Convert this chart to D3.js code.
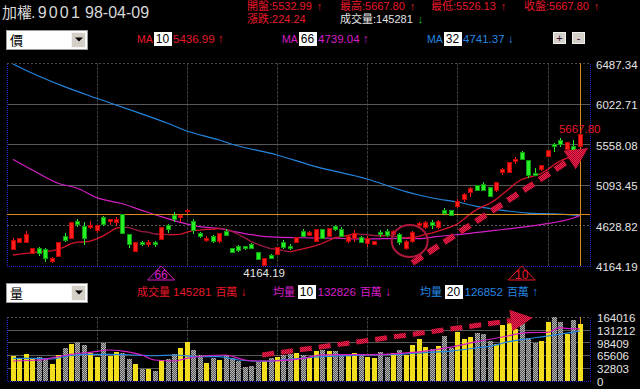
<!DOCTYPE html>
<html>
<head>
<meta charset="utf-8">
<title>加權.9001</title>
<script src="https://cdn.jsdelivr.net/npm/d3@7"></script>
<style>
  html, body { margin: 0; background: #000; }
  svg { display: block; }
</style>
</head>
<body>
<svg id="chart" width="640" height="389"></svg>
<script>
// ---- data ----
const opens = [4352,4436,4428,4306,4356,4352,4210,4267,4497,4471,
  4677,4612,4605,4566,4712,4669,4658,4754,4524,4325,
  4436,4402,4436,4467,4631,4735,4720,4784,4669,4539,
  4459,4497,4440,4554,4356,4382,4382,4410,4313,4172,
  4287,4295,4428,4390,4428,4562,4516,4440,4582,4505,
  4612,4574,4440,4471,4490,4421,4413,4547,4562,4524,
  4528,4356,4440,4631,4600,4658,4600,4803,4795,4841,
  4926,5002,5082,5099,5060,5022,5232,5236,5358,5466,
  5366,5228,5263,5423,5558,5599,5500,5538,5532.99];
const highs = [4479,4485,4566,4373,4382,4367,4267,4435,4536,4670,
  4700,4662,4681,4630,4738,4705,4727,4763,4530,4435,
  4448,4459,4453,4607,4638,4784,4758,4811,4697,4554,
  4505,4520,4545,4585,4362,4398,4396,4425,4320,4258,
  4298,4384,4459,4413,4492,4580,4562,4580,4590,4600,
  4631,4603,4512,4574,4505,4505,4453,4574,4580,4574,
  4545,4459,4562,4666,4677,4689,4689,4821,4809,4930,
  5000,5067,5096,5128,5067,5128,5280,5360,5415,5481,
  5375,5286,5320,5490,5569,5627,5585,5607,5667.80];
const lows = [4339,4421,4421,4298,4275,4210,4192,4260,4440,4465,
  4612,4402,4582,4536,4623,4631,4620,4528,4364,4318,
  4390,4379,4379,4460,4536,4669,4669,4758,4528,4479,
  4436,4425,4421,4505,4308,4325,4344,4356,4230,4164.19,
  4240,4287,4356,4344,4421,4493,4510,4436,4465,4498,
  4562,4493,4430,4440,4421,4375,4402,4493,4499,4516,
  4407,4344,4430,4614,4585,4585,4591,4746,4735,4826,
  4895,4956,5027,5025,4958,5015,5205,5230,5328,5378,
  5167,5194,5255,5415,5473,5523,5493,5436,5526.13];
const closes = [4459,4471,4524,4364,4306,4249,4249,4428,4459,4662,
  4639,4479,4631,4623,4639,4700,4700,4536,4402,4428,
  4410,4428,4410,4600,4585,4697,4738,4795,4566,4497,
  4482,4440,4536,4516,4313,4336,4359,4364,4237,4249,
  4249,4375,4375,4359,4485,4505,4543,4574,4471,4593,
  4582,4505,4505,4536,4428,4479,4440,4524,4508,4562,
  4428,4440,4543,4651,4662,4631,4669,4758,4746,4899,
  4976,5053,5033,5033,4964,5121,5263,5351,5385,5385,
  5205,5205,5312,5481,5530,5550,5576,5443.56,5667.80];
const volumes = [63200,56000,68000,55000,60000,56000,43000,66000,85000,94000,
  99000,92000,72000,61000,97000,63000,73000,70000,55000,44000,
  31000,31000,26000,53000,55000,68000,83000,99000,79000,65000,
  46000,57000,52000,65000,57000,50000,35000,38000,47000,51000,
  57000,61000,65000,68000,72000,66000,58000,76000,79000,75000,
  75000,67000,68000,72000,67000,61000,59000,73000,61000,70000,
  79000,67000,92000,108000,87000,80000,89000,114000,85000,126000,
  108000,111000,121000,120000,102000,94000,142000,147000,132000,147000,
  109000,97000,102000,150000,164000,150000,120000,155000,145281];
const ma10 = [4287,4296,4306,4314,4322,4328,4335,4352,4380,4417,
  4435,4436,4447,4473,4506,4551,4596,4607,4601,4578,
  4555,4550,4528,4525,4520,4520,4523,4549,4566,4573,
  4580,4581,4594,4585,4558,4522,4484,4441,4408,4383,
  4360,4353,4337,4322,4339,4356,4374,4395,4419,4453,
  4486,4499,4512,4530,4524,4522,4511,4506,4510,4507,
  4492,4485,4489,4500,4524,4539,4562,4585,4609,4643,
  4698,4759,4808,4846,4876,4925,4985,5044,5108,5156,
  5179,5195,5222,5267,5324,5367,5398,5407,5436.99];
// [day, value] samples of the longer averages
const ma66 = [[0,5385],[3,5263],[7,5110],[10,5053],[13,4945],[17,4875],[20,4800],
  [23,4727],[26,4662],[29,4612],[32,4590],[34,4562],[37,4520],[40,4495],[45,4485],
  [50,4479],[55,4471],[60,4478],[63,4476],[66,4500],[71,4536],[76,4580],[82,4635],
  [87,4712],[88,4739.04]];
const ma32 = [[0,6480],[3,6373],[8,6219],[13,6086],[19,5932],[24,5799],[27,5710],
  [32,5607],[34,5558],[41,5435],[47,5301],[55,5159],[61,5014],[63,4976],[66,4930],
  [69,4895],[72,4845],[76,4800],[80,4768],[84,4758],[88,4741.37]];
const volMa10 = [[0,50500],[4,53000],[7,61500],[9,67700],[12,72800],[15,78700],
  [17,76000],[20,65900],[22,53000],[25,50500],[27,57400],[30,64000],[33,65900],
  [36,53000],[38,50500],[41,51000],[45,57000],[48,66000],[52,67000],[56,67000],
  [60,70000],[64,76000],[68,86000],[72,100000],[76,112000],[80,123000],[83,124000],
  [85,136000],[86,134000],[88,132826]];
const volMa20 = [[0,57400],[3,57400],[6,55600],[8,61500],[11,67700],[15,67700],
  [19,65900],[22,64000],[25,65900],[29,61500],[32,61500],[35,53000],[39,50000],
  [43,55000],[48,61500],[55,66000],[60,68000],[64,72000],[68,76000],[72,84000],
  [74,88000],[77,100000],[81,110000],[84,117000],[86,122000],[88,126852]];
const priceTicks = [4164.19, 4628.82, 5093.45, 5558.08, 6022.71, 6487.34];
const volTicks = [0, 32803, 65606, 98409, 131212, 164016];
const gridDays = [13, 27, 41, 55, 69, 83];
const crossPrice = 4754;
// hand-drawn annotations, in [day, value]
const priceArrow = [[62, 4195], [89.3, 5515]];
const volArrow = [[38.7, 65900], [80.7, 161500]];
const circleAt = [61.6, 4448];

const colors = {
  up: "#ff1e1e", upEdge: "#c00000",
  down: "#26f026", downEdge: "#0c9c0c",
  ma10Up: "#d8142e", ma10Down: "#a01a44",
  ma66: "#d41ec6", ma32: "#2486e0",
  red: "#e8182a", volUp: "#f2de1c",
  grid: "#585858", gridDark: "#3c3c3c", frame: "#2626c8",
  cross: "#d88a1c", text: "#e4e4e4"
};
const FONT = "'Liberation Sans', Arial, 'Noto Sans CJK TC', sans-serif";

const svg = d3.select("#chart").attr("font-family", FONT);
const n = closes.length;
const days = d3.range(n);
const x = d3.scaleLinear().domain([0, n - 1]).range([13, 579.7]);
const yP = d3.scaleLinear().domain([4164.19, 6487.34]).range([265.7, 63.3]);
const yV = d3.scaleLinear().domain([0, 164016]).range([380.7, 316.7]);
const L = 7, R = 590;
const px = v => Math.round(v) + 0.5;

const defs = svg.append("defs");
function checker(id, a, b) {
  const p = defs.append("pattern").attr("id", id)
    .attr("width", 2).attr("height", 2).attr("patternUnits", "userSpaceOnUse");
  p.append("rect").attr("width", 2).attr("height", 2).attr("fill", a);
  p.append("rect").attr("width", 1).attr("height", 1).attr("fill", b);
  p.append("rect").attr("x", 1).attr("y", 1).attr("width", 1).attr("height", 1).attr("fill", b);
}
checker("dither", "#585858", "#b4b4b4");
checker("hatch", "#ff1e4a", "#9c0c2c");

// ---- panel frames ----
function frame(scale, ticks, dashedTicks) {
  const g = svg.append("g").attr("shape-rendering", "crispEdges");
  const bottom = scale.range()[0], top = scale.range()[1];
  g.selectAll(".vg").data(gridDays).enter().append("line")
    .attr("x1", d => px(x(d))).attr("x2", d => px(x(d)))
    .attr("y1", top).attr("y2", bottom)
    .attr("stroke", colors.gridDark).attr("stroke-dasharray", "3,1");
  g.selectAll(".hg").data(ticks.slice(1, -1)).enter().append("line")
    .attr("x1", L).attr("x2", R)
    .attr("y1", d => px(scale(d))).attr("y2", d => px(scale(d)))
    .attr("stroke", colors.grid)
    .attr("stroke-dasharray", d => dashedTicks.includes(d) ? "2,2" : null);
  g.append("line").attr("x1", L).attr("x2", R).attr("y1", px(top)).attr("y2", px(top))
    .attr("stroke", "#4a4a4a").attr("stroke-dasharray", "2,2");
  g.append("path")
    .attr("d", `M${px(L)},${px(top)}V${px(bottom)}H${px(R)}V${px(top)}`)
    .attr("fill", "none").attr("stroke", colors.frame).attr("stroke-dasharray", "1,1");
  return g;
}
frame(yP, priceTicks, [4628.82]);
frame(yV, volTicks, []);

// axis labels
svg.append("g").selectAll("text").data(priceTicks).enter().append("text")
  .attr("x", 596).attr("y", d => yP(d) + 1.5).attr("dominant-baseline", "central")
  .attr("font-size", 11.5).attr("fill", colors.text).text(d => d.toFixed(2));
svg.append("g").selectAll("text").data(volTicks).enter().append("text")
  .attr("x", 597).attr("y", d => yV(d) + 1.3).attr("dominant-baseline", "central")
  .attr("font-size", 11.5).attr("fill", colors.text).text(d => d);

// ---- moving averages (price) ----
const line = d3.line().x(d => x(d[0])).y(d => yP(d[1])).curve(d3.curveMonotoneX);
svg.append("path").attr("d", line(ma32)).attr("fill", "none")
  .attr("stroke", colors.ma32).attr("stroke-width", 1.2);
svg.append("path").attr("d", line(ma66)).attr("fill", "none")
  .attr("stroke", colors.ma66).attr("stroke-width", 1.2);
svg.append("g").selectAll("path").data(d3.range(1, n)).enter().append("path")
  .attr("d", i => line([[i - 1, ma10[i - 1]], [i, ma10[i]]]))
  .attr("fill", "none").attr("stroke-width", 1.3)
  .attr("stroke", i => ma10[i] >= ma10[i - 1] ? colors.ma10Up : colors.ma10Down);

// crosshair
const cx = px(x(n - 1));
svg.append("g").attr("shape-rendering", "crispEdges").attr("stroke", colors.cross)
  .call(g => g.append("line").attr("x1", L).attr("x2", R)
    .attr("y1", px(yP(crossPrice))).attr("y2", px(yP(crossPrice))))
  .call(g => g.append("line").attr("x1", cx).attr("x2", cx)
    .attr("y1", yP.range()[1]).attr("y2", yP.range()[0]))
  .call(g => g.append("line").attr("x1", cx).attr("x2", cx)
    .attr("y1", yV.range()[1]).attr("y2", yV.range()[0]));

// ---- candles ----
const isUp = i => closes[i] >= opens[i];
const candles = svg.append("g").attr("shape-rendering", "crispEdges");
candles.selectAll("line").data(days).enter().append("line")
  .attr("x1", i => px(x(i))).attr("x2", i => px(x(i)))
  .attr("y1", i => yP(highs[i])).attr("y2", i => yP(lows[i]))
  .attr("stroke", i => isUp(i) ? colors.up : colors.down);
candles.selectAll("rect").data(days).enter().append("rect")
  .attr("x", i => Math.round(x(i)) - 1.5).attr("width", 4)
  .attr("y", i => yP(Math.max(opens[i], closes[i])))
  .attr("height", i => Math.max(1, Math.abs(yP(opens[i]) - yP(closes[i]))))
  .attr("fill", i => isUp(i) ? colors.up : colors.down)
  .attr("stroke", i => isUp(i) ? colors.upEdge : colors.downEdge);

// ---- volume ----
svg.append("g").attr("shape-rendering", "crispEdges")
  .selectAll("rect").data(days).enter().append("rect")
  .attr("x", i => Math.round(x(i)) - 2).attr("width", 5)
  .attr("y", i => yV(volumes[i])).attr("height", i => yV(0) - yV(volumes[i]))
  .attr("fill", i => isUp(i) ? colors.volUp : "url(#dither)");
const vline = d3.line().x(d => x(d[0])).y(d => yV(d[1])).curve(d3.curveMonotoneX);
svg.append("path").attr("d", vline(volMa20)).attr("fill", "none")
  .attr("stroke", colors.ma32).attr("stroke-width", 1.2);
svg.append("path").attr("d", vline(volMa10)).attr("fill", "none")
  .attr("stroke", colors.ma66).attr("stroke-width", 1.2);

// ---- annotations ----
function dashedArrow(p1, p2, width) {
  const ang = Math.atan2(p2[1] - p1[1], p2[0] - p1[0]);
  const len = 22, hw = 11;
  const bx = p2[0] - len * Math.cos(ang), by = p2[1] - len * Math.sin(ang);
  const g = svg.append("g");
  g.append("line").attr("x1", p1[0]).attr("y1", p1[1]).attr("x2", bx).attr("y2", by)
    .attr("stroke", "url(#hatch)").attr("stroke-width", width).attr("stroke-dasharray", "12,7");
  g.append("path")
    .attr("d", `M${p2[0]},${p2[1]}L${bx - hw * Math.sin(ang)},${by + hw * Math.cos(ang)}` +
      `L${bx + hw * Math.sin(ang)},${by - hw * Math.cos(ang)}Z`)
    .attr("fill", "url(#hatch)");
}
dashedArrow([x(priceArrow[0][0]), yP(priceArrow[0][1])], [x(priceArrow[1][0]), yP(priceArrow[1][1])], 6);
dashedArrow([x(volArrow[0][0]), yV(volArrow[0][1])], [x(volArrow[1][0]), yV(volArrow[1][1])], 5);
svg.append("ellipse").attr("cx", x(circleAt[0])).attr("cy", yP(circleAt[1]))
  .attr("rx", 18).attr("ry", 16).attr("fill", "none")
  .attr("stroke", "#b0183e").attr("stroke-width", 2);

// period markers under the price panel
const markers = [{ period: 66, color: colors.ma66 }, { period: 10, color: colors.red }];
const mk = svg.append("g").selectAll("g").data(markers).enter().append("g")
  .attr("transform", d => `translate(${x(n - d.period)},0)`);
mk.append("path").attr("d", "M0,266L-13.5,280H13.5Z").attr("fill", "#000")
  .attr("stroke", d => d.color);
mk.append("text").attr("y", 279).attr("text-anchor", "middle").attr("font-size", 12)
  .attr("fill", d => d.color).text(d => d.period);

// low / last price labels
const lowIdx = lows.indexOf(d3.min(lows));
svg.append("text").attr("x", x(lowIdx)).attr("y", 277).attr("text-anchor", "middle")
  .attr("font-size", 11.5).attr("fill", colors.text).text(lows[lowIdx].toFixed(2));
svg.append("text").attr("x", x(n - 1)).attr("y", yP(highs[n - 1]) - 1.5).attr("text-anchor", "middle")
  .attr("font-size", 11.5).attr("fill", colors.red).text(highs[n - 1].toFixed(2));

// ---- header ----
const head = svg.append("g").attr("fill", "#d8d8d8");
head.append("text").attr("x", 2).attr("y", 18).attr("font-size", 15).text("加權");
head.append("text").attr("x", 31).attr("y", 18).attr("font-size", 16)
  .attr("letter-spacing", 2.2).text(".9001");
head.append("text").attr("x", 85).attr("y", 18).attr("font-size", 16).text("98-04-09");

const last = n - 1;
const quotes = [
  { x: 247, y: 10, label: "開盤:", value: opens[last].toFixed(2), arrow: "↑", fill: colors.red, af: colors.red },
  { x: 340, y: 10, label: "最高:", value: highs[last].toFixed(2), arrow: "↑", fill: colors.red, af: colors.red },
  { x: 431, y: 10, label: "最低:", value: lows[last].toFixed(2), arrow: "↑", fill: colors.red, af: colors.red },
  { x: 524, y: 10, label: "收盤:", value: closes[last].toFixed(2), arrow: "↑", fill: colors.red, af: colors.red },
  { x: 247, y: 22.5, label: "漲跌:", value: (closes[last] - closes[last - 1]).toFixed(2), arrow: "", fill: colors.red, af: colors.red },
  { x: 340, y: 22.5, label: "成交量:", value: String(volumes[last]), arrow: "↓", fill: colors.text, af: "#18c818" }
];
const qt = svg.append("g").selectAll("text").data(quotes).enter().append("text")
  .attr("x", d => d.x).attr("y", d => d.y).attr("fill", d => d.fill);
qt.append("tspan").attr("font-size", 11).text(d => d.label);
qt.append("tspan").attr("font-size", 11).text(d => d.value);
qt.append("tspan").attr("dx", 5).attr("font-size", 11).attr("fill", d => d.af).text(d => d.arrow);

// combo boxes
function combo(y, label) {
  const g = svg.append("g").attr("shape-rendering", "crispEdges");
  g.append("rect").attr("x", 6.5).attr("y", y + 0.5).attr("width", 81).attr("height", 19)
    .attr("fill", "#fff").attr("stroke", "#9a9a9a");
  g.append("text").attr("x", 10).attr("y", y + 15).attr("font-size", 13).attr("fill", "#000").text(label);
  g.append("rect").attr("x", 71.5).attr("y", y + 2.5).attr("width", 14).attr("height", 15)
    .attr("fill", "#d4d0c8").attr("stroke", "#f4f4f4");
  g.append("path").attr("d", `M75,${y + 8}H83L79,${y + 12}Z`).attr("fill", "#000")
    .attr("shape-rendering", "auto");
}
combo(29.5, "價");
combo(282.5, "量");

function periodBox(bx, y, text) {
  svg.append("rect").attr("x", bx).attr("y", y - 11).attr("width", 18).attr("height", 14)
    .attr("fill", "#fff").attr("shape-rendering", "crispEdges");
  svg.append("text").attr("x", bx + 9).attr("y", y).attr("text-anchor", "middle")
    .attr("font-size", 12).attr("fill", "#000").text(text);
}

// MA legend row
const maRow = [
  { x: 137, color: colors.red, period: 10, value: ma10[last], arrow: "↑" },
  { x: 282, color: colors.ma66, period: 66, value: ma66[ma66.length - 1][1], arrow: "↑" },
  { x: 427, color: colors.ma32, period: 32, value: ma32[ma32.length - 1][1], arrow: "↓" }
];
maRow.forEach(d => {
  svg.append("text").attr("x", d.x).attr("y", 43).attr("font-size", 10.5).attr("fill", d.color).text("MA");
  periodBox(d.x + 16.5, 43, d.period);
  const t = svg.append("text").attr("x", d.x + 36).attr("y", 43).attr("fill", d.color);
  t.append("tspan").attr("font-size", 11.5).text(d.value.toFixed(2));
  t.append("tspan").attr("dx", 3).attr("font-size", 12).text(d.arrow);
});

// zoom buttons
[{ x: 553, s: "+" }, { x: 572, s: "-" }].forEach(b => {
  svg.append("rect").attr("x", b.x + 0.5).attr("y", 32.5).attr("width", 12).attr("height", 11)
    .attr("fill", "#d4d0c8").attr("stroke", "#f0f0f0").attr("shape-rendering", "crispEdges");
  svg.append("text").attr("x", b.x + 6.5).attr("y", 41.5).attr("text-anchor", "middle")
    .attr("font-size", 11).attr("fill", "#301030").text(b.s);
});

// volume legend row
const vy = 296;
svg.append("text").attr("x", 137).attr("y", vy).attr("fill", colors.red)
  .call(t => t.append("tspan").attr("font-size", 11).text("成交量"))
  .call(t => t.append("tspan").attr("dx", 3).attr("font-size", 11.5).text(volumes[last]))
  .call(t => t.append("tspan").attr("dx", 4).attr("font-size", 11).text("百萬"))
  .call(t => t.append("tspan").attr("dx", 3).attr("font-size", 12).text("↓"));
const volRow = [
  { x: 273, color: colors.ma66, period: 10, value: volMa10[volMa10.length - 1][1], arrow: "↓" },
  { x: 420, color: colors.ma32, period: 20, value: volMa20[volMa20.length - 1][1], arrow: "↑" }
];
volRow.forEach(d => {
  svg.append("text").attr("x", d.x).attr("y", vy).attr("font-size", 11).attr("fill", d.color).text("均量");
  periodBox(d.x + 24.5, vy, d.period);
  svg.append("text").attr("x", d.x + 44.5).attr("y", vy).attr("fill", d.color)
    .call(t => t.append("tspan").attr("font-size", 11.5).text(d.value))
    .call(t => t.append("tspan").attr("dx", 4).attr("font-size", 11).text("百萬"))
    .call(t => t.append("tspan").attr("dx", 3).attr("font-size", 12).text(d.arrow));
});
</script>
</body>
</html>
